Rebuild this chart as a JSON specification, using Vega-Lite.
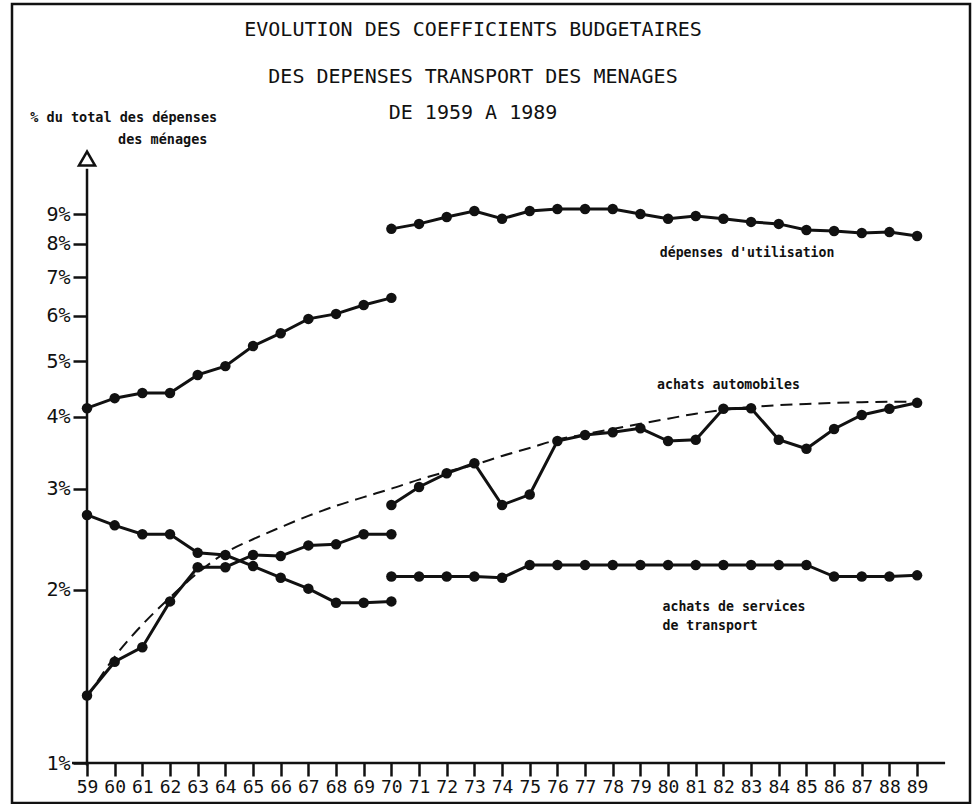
{
  "$schema": "https://vega.github.io/schema/vega-lite/v6.json",
  "width": 958,
  "height": 799,
  "padding": {"left": 12, "top": 4, "right": 3, "bottom": 1},
  "autosize": {"type": "pad"},
  "background": "white",
  "config": {
    "view": {"stroke": "#111", "strokeWidth": 2.5},
    "font": "DejaVu Sans Mono"
  },
  "title": {
    "text": ["EVOLUTION DES COEFFICIENTS BUDGETAIRES", "DES DEPENSES TRANSPORT DES MENAGES"],
    "subtitle": "DE 1959 A 1989",
    "font": "DejaVu Sans Mono",
    "fontSize": 20,
    "fontWeight": "normal",
    "subtitleFont": "DejaVu Sans Mono",
    "subtitleFontSize": 20,
    "subtitleColor": "#111",
    "color": "#111",
    "lineHeight": 47,
    "subtitlePadding": 16,
    "anchor": "middle",
    "frame": "group",
    "dx": -18,
    "offset": -119
  },
  "datasets": {
    "series": [
      {"annee": 59, "valeur": 4.14, "serie": "utilisation_1959_1970"},
      {"annee": 60, "valeur": 4.31, "serie": "utilisation_1959_1970"},
      {"annee": 61, "valeur": 4.40, "serie": "utilisation_1959_1970"},
      {"annee": 62, "valeur": 4.40, "serie": "utilisation_1959_1970"},
      {"annee": 63, "valeur": 4.73, "serie": "utilisation_1959_1970"},
      {"annee": 64, "valeur": 4.90, "serie": "utilisation_1959_1970"},
      {"annee": 65, "valeur": 5.31, "serie": "utilisation_1959_1970"},
      {"annee": 66, "valeur": 5.59, "serie": "utilisation_1959_1970"},
      {"annee": 67, "valeur": 5.92, "serie": "utilisation_1959_1970"},
      {"annee": 68, "valeur": 6.04, "serie": "utilisation_1959_1970"},
      {"annee": 69, "valeur": 6.26, "serie": "utilisation_1959_1970"},
      {"annee": 70, "valeur": 6.44, "serie": "utilisation_1959_1970"},
      {"annee": 70, "valeur": 8.49, "serie": "utilisation_1970_1989"},
      {"annee": 71, "valeur": 8.66, "serie": "utilisation_1970_1989"},
      {"annee": 72, "valeur": 8.90, "serie": "utilisation_1970_1989"},
      {"annee": 73, "valeur": 9.12, "serie": "utilisation_1970_1989"},
      {"annee": 74, "valeur": 8.84, "serie": "utilisation_1970_1989"},
      {"annee": 75, "valeur": 9.12, "serie": "utilisation_1970_1989"},
      {"annee": 76, "valeur": 9.19, "serie": "utilisation_1970_1989"},
      {"annee": 77, "valeur": 9.19, "serie": "utilisation_1970_1989"},
      {"annee": 78, "valeur": 9.19, "serie": "utilisation_1970_1989"},
      {"annee": 79, "valeur": 9.01, "serie": "utilisation_1970_1989"},
      {"annee": 80, "valeur": 8.84, "serie": "utilisation_1970_1989"},
      {"annee": 81, "valeur": 8.94, "serie": "utilisation_1970_1989"},
      {"annee": 82, "valeur": 8.84, "serie": "utilisation_1970_1989"},
      {"annee": 83, "valeur": 8.73, "serie": "utilisation_1970_1989"},
      {"annee": 84, "valeur": 8.66, "serie": "utilisation_1970_1989"},
      {"annee": 85, "valeur": 8.45, "serie": "utilisation_1970_1989"},
      {"annee": 86, "valeur": 8.42, "serie": "utilisation_1970_1989"},
      {"annee": 87, "valeur": 8.35, "serie": "utilisation_1970_1989"},
      {"annee": 88, "valeur": 8.38, "serie": "utilisation_1970_1989"},
      {"annee": 89, "valeur": 8.25, "serie": "utilisation_1970_1989"},
      {"annee": 59, "valeur": 1.31, "serie": "automobiles_1959_1970"},
      {"annee": 60, "valeur": 1.50, "serie": "automobiles_1959_1970"},
      {"annee": 61, "valeur": 1.59, "serie": "automobiles_1959_1970"},
      {"annee": 62, "valeur": 1.91, "serie": "automobiles_1959_1970"},
      {"annee": 63, "valeur": 2.19, "serie": "automobiles_1959_1970"},
      {"annee": 64, "valeur": 2.19, "serie": "automobiles_1959_1970"},
      {"annee": 65, "valeur": 2.30, "serie": "automobiles_1959_1970"},
      {"annee": 66, "valeur": 2.29, "serie": "automobiles_1959_1970"},
      {"annee": 67, "valeur": 2.39, "serie": "automobiles_1959_1970"},
      {"annee": 68, "valeur": 2.40, "serie": "automobiles_1959_1970"},
      {"annee": 69, "valeur": 2.50, "serie": "automobiles_1959_1970"},
      {"annee": 70, "valeur": 2.50, "serie": "automobiles_1959_1970"},
      {"annee": 70, "valeur": 2.81, "serie": "automobiles_1970_1989"},
      {"annee": 71, "valeur": 3.02, "serie": "automobiles_1970_1989"},
      {"annee": 72, "valeur": 3.19, "serie": "automobiles_1970_1989"},
      {"annee": 73, "valeur": 3.32, "serie": "automobiles_1970_1989"},
      {"annee": 74, "valeur": 2.81, "serie": "automobiles_1970_1989"},
      {"annee": 75, "valeur": 2.93, "serie": "automobiles_1970_1989"},
      {"annee": 76, "valeur": 3.63, "serie": "automobiles_1970_1989"},
      {"annee": 77, "valeur": 3.72, "serie": "automobiles_1970_1989"},
      {"annee": 78, "valeur": 3.76, "serie": "automobiles_1970_1989"},
      {"annee": 79, "valeur": 3.82, "serie": "automobiles_1970_1989"},
      {"annee": 80, "valeur": 3.63, "serie": "automobiles_1970_1989"},
      {"annee": 81, "valeur": 3.65, "serie": "automobiles_1970_1989"},
      {"annee": 82, "valeur": 4.13, "serie": "automobiles_1970_1989"},
      {"annee": 83, "valeur": 4.14, "serie": "automobiles_1970_1989"},
      {"annee": 84, "valeur": 3.65, "serie": "automobiles_1970_1989"},
      {"annee": 85, "valeur": 3.52, "serie": "automobiles_1970_1989"},
      {"annee": 86, "valeur": 3.81, "serie": "automobiles_1970_1989"},
      {"annee": 87, "valeur": 4.03, "serie": "automobiles_1970_1989"},
      {"annee": 88, "valeur": 4.13, "serie": "automobiles_1970_1989"},
      {"annee": 89, "valeur": 4.23, "serie": "automobiles_1970_1989"},
      {"annee": 59, "valeur": 2.70, "serie": "services_1959_1970"},
      {"annee": 60, "valeur": 2.59, "serie": "services_1959_1970"},
      {"annee": 61, "valeur": 2.50, "serie": "services_1959_1970"},
      {"annee": 62, "valeur": 2.50, "serie": "services_1959_1970"},
      {"annee": 63, "valeur": 2.32, "serie": "services_1959_1970"},
      {"annee": 64, "valeur": 2.30, "serie": "services_1959_1970"},
      {"annee": 65, "valeur": 2.20, "serie": "services_1959_1970"},
      {"annee": 66, "valeur": 2.10, "serie": "services_1959_1970"},
      {"annee": 67, "valeur": 2.01, "serie": "services_1959_1970"},
      {"annee": 68, "valeur": 1.90, "serie": "services_1959_1970"},
      {"annee": 69, "valeur": 1.90, "serie": "services_1959_1970"},
      {"annee": 70, "valeur": 1.91, "serie": "services_1959_1970"},
      {"annee": 70, "valeur": 2.11, "serie": "services_1970_1989"},
      {"annee": 71, "valeur": 2.11, "serie": "services_1970_1989"},
      {"annee": 72, "valeur": 2.11, "serie": "services_1970_1989"},
      {"annee": 73, "valeur": 2.11, "serie": "services_1970_1989"},
      {"annee": 74, "valeur": 2.10, "serie": "services_1970_1989"},
      {"annee": 75, "valeur": 2.21, "serie": "services_1970_1989"},
      {"annee": 76, "valeur": 2.21, "serie": "services_1970_1989"},
      {"annee": 77, "valeur": 2.21, "serie": "services_1970_1989"},
      {"annee": 78, "valeur": 2.21, "serie": "services_1970_1989"},
      {"annee": 79, "valeur": 2.21, "serie": "services_1970_1989"},
      {"annee": 80, "valeur": 2.21, "serie": "services_1970_1989"},
      {"annee": 81, "valeur": 2.21, "serie": "services_1970_1989"},
      {"annee": 82, "valeur": 2.21, "serie": "services_1970_1989"},
      {"annee": 83, "valeur": 2.21, "serie": "services_1970_1989"},
      {"annee": 84, "valeur": 2.21, "serie": "services_1970_1989"},
      {"annee": 85, "valeur": 2.21, "serie": "services_1970_1989"},
      {"annee": 86, "valeur": 2.11, "serie": "services_1970_1989"},
      {"annee": 87, "valeur": 2.11, "serie": "services_1970_1989"},
      {"annee": 88, "valeur": 2.11, "serie": "services_1970_1989"},
      {"annee": 89, "valeur": 2.12, "serie": "services_1970_1989"}
    ],
    "tendance": [
      {"annee": 59, "valeur": 1.30},
      {"annee": 60, "valeur": 1.53},
      {"annee": 61, "valeur": 1.74},
      {"annee": 62, "valeur": 1.94},
      {"annee": 63, "valeur": 2.14},
      {"annee": 64, "valeur": 2.32},
      {"annee": 65, "valeur": 2.45},
      {"annee": 66, "valeur": 2.57},
      {"annee": 67, "valeur": 2.69},
      {"annee": 68, "valeur": 2.80},
      {"annee": 69, "valeur": 2.90},
      {"annee": 70, "valeur": 3.00},
      {"annee": 71, "valeur": 3.11},
      {"annee": 72, "valeur": 3.21},
      {"annee": 73, "valeur": 3.30},
      {"annee": 74, "valeur": 3.42},
      {"annee": 75, "valeur": 3.53},
      {"annee": 76, "valeur": 3.65},
      {"annee": 77, "valeur": 3.73},
      {"annee": 78, "valeur": 3.81},
      {"annee": 79, "valeur": 3.89},
      {"annee": 80, "valeur": 3.97},
      {"annee": 81, "valeur": 4.05},
      {"annee": 82, "valeur": 4.11},
      {"annee": 83, "valeur": 4.16},
      {"annee": 84, "valeur": 4.19},
      {"annee": 85, "valeur": 4.21},
      {"annee": 86, "valeur": 4.23},
      {"annee": 87, "valeur": 4.24},
      {"annee": 88, "valeur": 4.25},
      {"annee": 89, "valeur": 4.25}
    ],
    "etiquettes": [
      {"texte": "dépenses d'utilisation", "annee": 79.7, "valeur": 7.72, "groupe": "courbe"},
      {"texte": "achats automobiles", "annee": 79.6, "valeur": 4.54, "groupe": "courbe"},
      {"texte": "achats de services", "annee": 79.8, "valeur": 1.87, "groupe": "courbe"},
      {"texte": "de transport", "annee": 79.8, "valeur": 1.73, "groupe": "courbe"},
      {"texte": "% du total des dépenses", "annee": 56.95, "valeur": 13.23, "groupe": "axe"},
      {"texte": "des ménages", "annee": 60.12, "valeur": 12.10, "groupe": "axe"}
    ]
  },
  "layer": [
    {
      "data": {"name": "series"},
      "mark": {"type": "line", "color": "#111", "strokeWidth": 3},
      "encoding": {
        "x": {"field": "annee", "type": "quantitative",
          "scale": {"domain": [56.289, 90.912], "nice": false, "zero": false},
          "axis": {"orient": "bottom", "offset": -40, "title": null, "domain": false, "grid": false, "values": [59,60,61,62,63,64,65,66,67,68,69,70,71,72,73,74,75,76,77,78,79,80,81,82,83,84,85,86,87,88,89], "tickCount": 31, "ticks": true, "format": "d", "tickSize": 13, "tickWidth": 2.5, "tickColor": "#111", "labelFont": "DejaVu Sans Mono", "labelFontSize": 18, "labelColor": "#111", "labelPadding": 2, "labelFlush": false, "labelOverlap": false, "labelSeparation": 0}},
        "y": {"field": "valeur", "type": "quantitative",
          "scale": {"type": "log", "domain": [0.852, 20.89], "nice": false},
          "axis": {"orient": "left", "offset": -75, "title": null, "domain": false, "grid": false, "values": [1,2,3,4,5,6,7,8,9], "labelExpr": "datum.value + '%'", "tickSize": 14, "tickWidth": 2.5, "tickColor": "#111", "labelFont": "DejaVu Sans Mono", "labelFontSize": 20, "labelColor": "#111", "labelPadding": 3, "labelFlush": false, "labelOverlap": false}},
        "detail": {"field": "serie", "type": "nominal"}
      }
    },
    {
      "data": {"name": "series"},
      "mark": {"type": "point", "shape": "circle", "filled": true, "color": "#111", "size": 110, "opacity": 1},
      "encoding": {
        "x": {"field": "annee", "type": "quantitative",
          "axis": {"orient": "bottom", "offset": -40, "title": null, "domain": false, "grid": false, "values": [59,60,61,62,63,64,65,66,67,68,69,70,71,72,73,74,75,76,77,78,79,80,81,82,83,84,85,86,87,88,89], "tickCount": 31, "ticks": true, "format": "d", "tickSize": 13, "tickWidth": 2.5, "tickColor": "#111", "labelFont": "DejaVu Sans Mono", "labelFontSize": 18, "labelColor": "#111", "labelPadding": 2, "labelFlush": false, "labelOverlap": false, "labelSeparation": 0}},
        "y": {"field": "valeur", "type": "quantitative",
          "axis": {"orient": "left", "offset": -75, "title": null, "domain": false, "grid": false, "values": [1,2,3,4,5,6,7,8,9], "labelExpr": "datum.value + '%'", "tickSize": 14, "tickWidth": 2.5, "tickColor": "#111", "labelFont": "DejaVu Sans Mono", "labelFontSize": 20, "labelColor": "#111", "labelPadding": 3, "labelFlush": false, "labelOverlap": false}},
        "detail": {"field": "serie", "type": "nominal"}
      }
    },
    {
      "data": {"name": "tendance"},
      "mark": {"type": "line", "color": "#111", "strokeWidth": 2, "strokeDash": [12, 7], "interpolate": "monotone"},
      "encoding": {
        "x": {"field": "annee", "type": "quantitative",
          "axis": {"orient": "bottom", "offset": -40, "title": null, "domain": false, "grid": false, "values": [59,60,61,62,63,64,65,66,67,68,69,70,71,72,73,74,75,76,77,78,79,80,81,82,83,84,85,86,87,88,89], "tickCount": 31, "ticks": true, "format": "d", "tickSize": 13, "tickWidth": 2.5, "tickColor": "#111", "labelFont": "DejaVu Sans Mono", "labelFontSize": 18, "labelColor": "#111", "labelPadding": 2, "labelFlush": false, "labelOverlap": false, "labelSeparation": 0}},
        "y": {"field": "valeur", "type": "quantitative",
          "axis": {"orient": "left", "offset": -75, "title": null, "domain": false, "grid": false, "values": [1,2,3,4,5,6,7,8,9], "labelExpr": "datum.value + '%'", "tickSize": 14, "tickWidth": 2.5, "tickColor": "#111", "labelFont": "DejaVu Sans Mono", "labelFontSize": 20, "labelColor": "#111", "labelPadding": 3, "labelFlush": false, "labelOverlap": false}}
      }
    },
    {
      "data": {"name": "tendance"},
      "mark": {"type": "rule", "color": "#111", "strokeWidth": 2.5, "xOffset": -15, "x2Offset": 28},
      "encoding": {
        "x": {"field": "annee", "type": "quantitative", "aggregate": "min",
          "axis": {"orient": "bottom", "offset": -40, "title": null, "domain": false, "grid": false, "values": [59,60,61,62,63,64,65,66,67,68,69,70,71,72,73,74,75,76,77,78,79,80,81,82,83,84,85,86,87,88,89], "tickCount": 31, "ticks": true, "format": "d", "tickSize": 13, "tickWidth": 2.5, "tickColor": "#111", "labelFont": "DejaVu Sans Mono", "labelFontSize": 18, "labelColor": "#111", "labelPadding": 2, "labelFlush": false, "labelOverlap": false, "labelSeparation": 0}},
        "x2": {"field": "annee", "aggregate": "max"},
        "y": {"datum": 1, "type": "quantitative",
          "axis": {"orient": "left", "offset": -75, "title": null, "domain": false, "grid": false, "values": [1,2,3,4,5,6,7,8,9], "labelExpr": "datum.value + '%'", "tickSize": 14, "tickWidth": 2.5, "tickColor": "#111", "labelFont": "DejaVu Sans Mono", "labelFontSize": 20, "labelColor": "#111", "labelPadding": 3, "labelFlush": false, "labelOverlap": false}}
      }
    },
    {
      "data": {"name": "tendance"},
      "transform": [{"filter": "datum.annee === 59"}],
      "mark": {"type": "rule", "color": "#111", "strokeWidth": 2.5},
      "encoding": {
        "x": {"field": "annee", "type": "quantitative",
          "axis": {"orient": "bottom", "offset": -40, "title": null, "domain": false, "grid": false, "values": [59,60,61,62,63,64,65,66,67,68,69,70,71,72,73,74,75,76,77,78,79,80,81,82,83,84,85,86,87,88,89], "tickCount": 31, "ticks": true, "format": "d", "tickSize": 13, "tickWidth": 2.5, "tickColor": "#111", "labelFont": "DejaVu Sans Mono", "labelFontSize": 18, "labelColor": "#111", "labelPadding": 2, "labelFlush": false, "labelOverlap": false, "labelSeparation": 0}},
        "y": {"datum": 0.99, "type": "quantitative",
          "axis": {"orient": "left", "offset": -75, "title": null, "domain": false, "grid": false, "values": [1,2,3,4,5,6,7,8,9], "labelExpr": "datum.value + '%'", "tickSize": 14, "tickWidth": 2.5, "tickColor": "#111", "labelFont": "DejaVu Sans Mono", "labelFontSize": 20, "labelColor": "#111", "labelPadding": 3, "labelFlush": false, "labelOverlap": false}},
        "y2": {"datum": 10.8}
      }
    },
    {
      "data": {"name": "tendance"},
      "transform": [{"filter": "datum.annee === 59"}],
      "mark": {"type": "point", "shape": "triangle-up", "filled": true, "fill": "white", "stroke": "#111", "strokeWidth": 2.5, "size": 260, "opacity": 1},
      "encoding": {
        "x": {"field": "annee", "type": "quantitative",
          "axis": {"orient": "bottom", "offset": -40, "title": null, "domain": false, "grid": false, "values": [59,60,61,62,63,64,65,66,67,68,69,70,71,72,73,74,75,76,77,78,79,80,81,82,83,84,85,86,87,88,89], "tickCount": 31, "ticks": true, "format": "d", "tickSize": 13, "tickWidth": 2.5, "tickColor": "#111", "labelFont": "DejaVu Sans Mono", "labelFontSize": 18, "labelColor": "#111", "labelPadding": 2, "labelFlush": false, "labelOverlap": false, "labelSeparation": 0}},
        "y": {"datum": 11.25, "type": "quantitative",
          "axis": {"orient": "left", "offset": -75, "title": null, "domain": false, "grid": false, "values": [1,2,3,4,5,6,7,8,9], "labelExpr": "datum.value + '%'", "tickSize": 14, "tickWidth": 2.5, "tickColor": "#111", "labelFont": "DejaVu Sans Mono", "labelFontSize": 20, "labelColor": "#111", "labelPadding": 3, "labelFlush": false, "labelOverlap": false}}
      }
    },
    {
      "data": {"name": "etiquettes"},
      "transform": [{"filter": "datum.groupe === 'courbe'"}],
      "mark": {"type": "text", "align": "left", "baseline": "middle", "font": "DejaVu Sans Mono", "fontSize": 13.2, "fontWeight": "bold", "color": "#111"},
      "encoding": {
        "x": {"field": "annee", "type": "quantitative",
          "axis": {"orient": "bottom", "offset": -40, "title": null, "domain": false, "grid": false, "values": [59,60,61,62,63,64,65,66,67,68,69,70,71,72,73,74,75,76,77,78,79,80,81,82,83,84,85,86,87,88,89], "tickCount": 31, "ticks": true, "format": "d", "tickSize": 13, "tickWidth": 2.5, "tickColor": "#111", "labelFont": "DejaVu Sans Mono", "labelFontSize": 18, "labelColor": "#111", "labelPadding": 2, "labelFlush": false, "labelOverlap": false, "labelSeparation": 0}},
        "y": {"field": "valeur", "type": "quantitative",
          "axis": {"orient": "left", "offset": -75, "title": null, "domain": false, "grid": false, "values": [1,2,3,4,5,6,7,8,9], "labelExpr": "datum.value + '%'", "tickSize": 14, "tickWidth": 2.5, "tickColor": "#111", "labelFont": "DejaVu Sans Mono", "labelFontSize": 20, "labelColor": "#111", "labelPadding": 3, "labelFlush": false, "labelOverlap": false}},
        "text": {"field": "texte", "type": "nominal"}
      }
    },
    {
      "data": {"name": "etiquettes"},
      "transform": [{"filter": "datum.groupe === 'axe'"}],
      "mark": {"type": "text", "align": "left", "baseline": "middle", "font": "DejaVu Sans Mono", "fontSize": 13.5, "fontWeight": "bold", "color": "#111"},
      "encoding": {
        "x": {"field": "annee", "type": "quantitative",
          "axis": {"orient": "bottom", "offset": -40, "title": null, "domain": false, "grid": false, "values": [59,60,61,62,63,64,65,66,67,68,69,70,71,72,73,74,75,76,77,78,79,80,81,82,83,84,85,86,87,88,89], "tickCount": 31, "ticks": true, "format": "d", "tickSize": 13, "tickWidth": 2.5, "tickColor": "#111", "labelFont": "DejaVu Sans Mono", "labelFontSize": 18, "labelColor": "#111", "labelPadding": 2, "labelFlush": false, "labelOverlap": false, "labelSeparation": 0}},
        "y": {"field": "valeur", "type": "quantitative",
          "axis": {"orient": "left", "offset": -75, "title": null, "domain": false, "grid": false, "values": [1,2,3,4,5,6,7,8,9], "labelExpr": "datum.value + '%'", "tickSize": 14, "tickWidth": 2.5, "tickColor": "#111", "labelFont": "DejaVu Sans Mono", "labelFontSize": 20, "labelColor": "#111", "labelPadding": 3, "labelFlush": false, "labelOverlap": false}},
        "text": {"field": "texte", "type": "nominal"}
      }
    }
  ]
}
